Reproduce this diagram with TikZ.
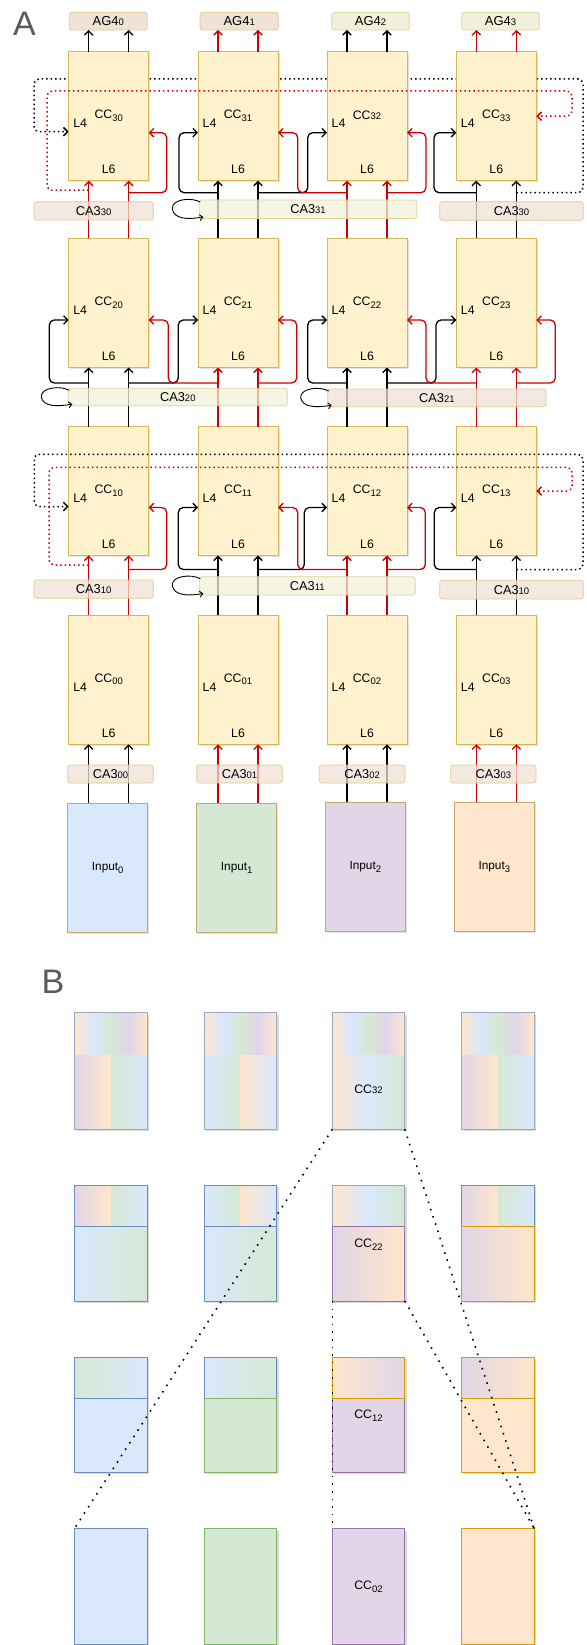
\documentclass[tikz,border=0pt]{standalone}
\usepackage{fontspec}
\setmainfont{Liberation Sans}
\usetikzlibrary{arrows.meta,calc,shadows}
\pgfdeclarelayer{background}
\pgfsetlayers{background,main}
\definecolor{ccfill}{HTML}{FFF2CC}
\definecolor{ccdraw}{HTML}{D6B656}
\definecolor{cabfill}{HTML}{F0E2D6}
\definecolor{cabdraw}{HTML}{E3C88F}
\definecolor{cagfill}{HTML}{F1F1DB}
\definecolor{cagdraw}{HTML}{DCD49A}
\definecolor{myred}{HTML}{CC0000}
\definecolor{cO}{HTML}{FFE6CC}
\definecolor{cB}{HTML}{DAE8FC}
\definecolor{cG}{HTML}{D5E8D4}
\definecolor{cP}{HTML}{E1D5E7}
\definecolor{sO}{HTML}{D79B00}
\definecolor{sB}{HTML}{6C8EBF}
\definecolor{sG}{HTML}{82B366}
\definecolor{sP}{HTML}{9673A6}
\definecolor{sX}{HTML}{9AA8C4}
\definecolor{inpdraw}{HTML}{C4A96E}
\definecolor{lettergrey}{HTML}{5A5A5A}
\newcommand\subd[1]{\raisebox{-2.8pt}{\fontsize{9.5}{10}\selectfont #1}}
\newcommand\smd[1]{{\fontsize{9.5}{10}\selectfont #1}}
\newcommand\shfill[6]{\shade[left color=#5,right color=#6] (#1,#2) rectangle (#3,#4);}
\newcommand\rainbow[3]{%
 \shfill{#1}{#2}{#1+18.125}{#3}{cO}{cB}%
 \shfill{#1+18.125}{#2}{#1+36.25}{#3}{cB}{cG}%
 \shfill{#1+36.25}{#2}{#1+54.375}{#3}{cG}{cP}%
 \shfill{#1+54.375}{#2}{#1+72.5}{#3}{cP}{cO}}
\newcommand\halves[7]{%
 \shfill{#1}{#2}{#1+36.25}{#3}{#4}{#5}%
 \shfill{#1+36.25}{#2}{#1+72.5}{#3}{#6}{#7}}
\newcommand\bshadow[3]{\fill[black,opacity=0.15] (#1+2,#2+2) rectangle (#1+74.5,#3+2);}
\begin{document}
\begin{tikzpicture}[x=1pt,y=-1pt,
 every node/.style={inner sep=0pt,outer sep=0pt,font=\fontsize{12.3}{14}\selectfont},
 ccbox/.style={draw=ccdraw,fill=ccfill,line width=0.8pt,minimum width=80pt,minimum height=129pt,anchor=north west,drop shadow={shadow xshift=1.6pt,shadow yshift=-1.6pt,opacity=0.22}},
 inbox/.style={draw=inpdraw,line width=0.8pt,minimum width=80pt,minimum height=129pt,anchor=north west,drop shadow={shadow xshift=1.6pt,shadow yshift=-1.6pt,opacity=0.22}},
 cab/.style={draw=cabdraw,fill=cabfill,fill opacity=0.75,text opacity=1,line width=0.7pt,rounded corners=2.5pt,anchor=north west,font=\fontsize{12.8}{14}\selectfont},
 cag/.style={draw=cagdraw,fill=cagfill,fill opacity=0.75,text opacity=1,line width=0.7pt,rounded corners=2.5pt,anchor=north west,font=\fontsize{12.8}{14}\selectfont},
 agb/.style={draw=cabdraw,fill=cabfill,line width=0.7pt,rounded corners=2.5pt,anchor=north west,minimum width=78pt,minimum height=17.7pt,font=\fontsize{13}{14}\selectfont},
 agg/.style={draw=cagdraw,fill=cagfill,line width=0.7pt,rounded corners=2.5pt,anchor=north west,minimum width=77.6pt,minimum height=17.7pt,font=\fontsize{13}{14}\selectfont},
 barr/.style={line width=1.3pt,draw=black,-{Straight Barb[length=4.2pt,width=8.5pt]},rounded corners=5pt},
 rarr/.style={line width=1.3pt,draw=myred,-{Straight Barb[length=4.2pt,width=8.5pt]},rounded corners=5pt},
 varr/.style={line width=1.3pt,-{Straight Barb[length=4.2pt,width=8.5pt]}},
 bdot/.style={line width=1.5pt,draw=black,dash pattern=on 1.5pt off 3pt,-{Straight Barb[length=4.2pt,width=8.5pt]},rounded corners=5pt},
 rdot/.style={line width=1.5pt,draw=myred,dash pattern=on 1.5pt off 3pt,-{Straight Barb[length=4.2pt,width=8.5pt]},rounded corners=5pt},
 loopar/.style={line width=0.9pt,-{Straight Barb[length=3pt,width=6pt]}},
 bdots/.style={line width=1.6pt,dash pattern=on 1.6pt off 6pt},
 bnode/.style={anchor=north west,minimum width=72.5pt}
]
\useasboundingbox (0,0) rectangle (586,1645);

% ---------- Part A ----------
\node[font=\fontsize{34}{34}\selectfont,text=lettergrey] (labA) at (24.5,23.5) {A};

\foreach \r/\t in {0/615.3,1/426.5,2/238.5,3/51.7}{
 \foreach \c/\x in {0/68.7,1/198,2/327,3/456.3}{
  \node[ccbox] (cc\r\c) at (\x,\t) {};
  \node (lfour\r\c) at (\x+11.5,\t+71.5) {L4};
  \node (lsix\r\c) at (\x+40,\t+118) {L6};
  \node (lab\r\c) at (\x+40,\t+64) {CC\ifnum\r\c=32 \smd{32}\else\subd{\r\c}\fi};
 }}

\node[inbox,fill=cB] (inp0) at (67.7,803.3) {};
\node[inbox,fill=cG] (inp1) at (196.7,803.3) {};
\node[inbox,fill=cP] (inp2) at (325.3,802.3) {};
\node[inbox,fill=cO] (inp3) at (454.3,802.3) {};
\foreach \c in {0,1,2,3}{
 \node[font=\fontsize{11.8}{13}\selectfont] (inl\c) at (inp\c.center) {Input\subd{\c}};
}

\node[agb] (ag0) at (69.3,12.3) {AG4\smd{0}};
\node[agb,minimum width=78.3pt] (ag1) at (200,12.3) {AG4\smd{1}};
\node[agg] (ag2) at (331.7,12.3) {AG4\smd{2}};
\node[agg] (ag3) at (461.7,12.3) {AG4\smd{3}};

% vertical connectors
\foreach \c/\vcol in {0/black,1/myred,2/black,3/myred}{
 \foreach \dx in {20,60}{
  \path ($(cc0\c.south west)+(\dx,0)$) coordinate (vtop);
  \draw[varr,draw=\vcol] (vtop |- inp\c.north) -- (vtop);
  \path ($(cc3\c.north west)+(\dx,0)$) coordinate (vbot);
  \draw[varr,draw=\vcol] (vbot) -- (vbot |- ag\c.south);
 }}
\foreach \rr/\r in {1/0,2/1,3/2}{
 \foreach \c in {0,1,2,3}{
  \pgfmathtruncatemacro\parity{mod(\rr+\c,2)}
  \ifnum\parity=0 \def\vcol{black}\else\def\vcol{myred}\fi
  \foreach \dx in {20,60}{
   \draw[varr,draw=\vcol] ($(cc\r\c.north west)+(\dx,0)$) -- ($(cc\rr\c.south west)+(\dx,0)$);
  }}}

% row 3 lateral
\begin{pgfonlayer}{background}
\draw[bdot] ($(cc33.south west)+(60,12)$) -- (583,192.7) -- (583,79) -- (34,79) -- (34,131.7) -- ($(cc30.north west)+(0,80)$);
\end{pgfonlayer}
\draw[rarr] ($(cc30.south west)+(60,12)$) -- (166.7,192.7) -- (166.7,132.7) -- ($(cc30.north east)+(0,81)$);
\draw[barr] ($(cc31.south west)+(20,12)$) -- (179,192.7) -- (179,132.7) -- ($(cc31.north west)+(0,81)$);
\draw[barr] ($(cc31.south west)+(60,12)$) -- (307.7,192.7) -- (307.7,132.7) -- ($(cc32.north west)+(0,81)$);
\draw[rarr] ($(cc32.south west)+(20,12)$) -- (297.7,192.7) -- (297.7,132.7) -- ($(cc31.north east)+(0,81)$);
\draw[rarr] ($(cc32.south west)+(60,12)$) -- (426,192.7) -- (426,132.7) -- ($(cc32.north east)+(0,81)$);
\draw[barr] ($(cc33.south west)+(20,12)$) -- (434,192.7) -- (434,132.7) -- ($(cc33.north west)+(0,81)$);
\draw[rdot] ($(cc30.south west)+(20,9.5)$) -- (47,190.2) -- (47,91) -- (572,91) -- (572,116.2) -- ($(cc33.north east)+(0,64.5)$);

% row 2 lateral
\draw[barr] ($(cc20.south west)+(20,15.5)$) -- (49.3,383) -- (49.3,320) -- ($(cc20.north west)+(0,81.5)$);
\draw[barr] ($(cc20.south west)+(60,15.5)$) -- (178.3,383) -- (178.3,320) -- ($(cc21.north west)+(0,81.5)$);
\draw[rarr] ($(cc21.south west)+(20,15.5)$) -- (168.3,383) -- (168.3,320) -- ($(cc20.north east)+(0,81.5)$);
\draw[rarr] ($(cc21.south west)+(60,15.5)$) -- (296.7,383) -- (296.7,320) -- ($(cc21.north east)+(0,81.5)$);
\draw[barr] ($(cc22.south west)+(20,15.5)$) -- (307.7,383) -- (307.7,320) -- ($(cc22.north west)+(0,81.5)$);
\draw[barr] ($(cc22.south west)+(60,15.5)$) -- (436,383) -- (436,320) -- ($(cc23.north west)+(0,81.5)$);
\draw[rarr] ($(cc23.south west)+(20,15.5)$) -- (426,383) -- (426,320) -- ($(cc22.north east)+(0,81.5)$);
\draw[rarr] ($(cc23.south west)+(60,15.5)$) -- (555.3,383) -- (555.3,320) -- ($(cc23.north east)+(0,81.5)$);

% row 1 lateral
\draw[rarr] ($(cc10.south west)+(60,14)$) -- (166.7,569.5) -- (166.7,507.5) -- ($(cc10.north east)+(0,81)$);
\draw[barr] ($(cc11.south west)+(20,14)$) -- (178.3,569.5) -- (178.3,507.5) -- ($(cc11.north west)+(0,81)$);
\draw[barr] ($(cc11.south west)+(60,14)$) -- (304.3,569.5) -- (304.3,507.5) -- ($(cc12.north west)+(0,81)$);
\draw[rarr] ($(cc12.south west)+(20,14)$) -- (297.7,569.5) -- (297.7,507.5) -- ($(cc11.north east)+(0,81)$);
\draw[rarr] ($(cc12.south west)+(60,14)$) -- (425.3,569.5) -- (425.3,507.5) -- ($(cc12.north east)+(0,81)$);
\draw[barr] ($(cc13.south west)+(20,14)$) -- (434.3,569.5) -- (434.3,507.5) -- ($(cc13.north west)+(0,81)$);
\draw[bdot] ($(cc13.south west)+(60,14)$) -- (583,569.5) -- (583,454.3) -- (34.3,454.3) -- (34.3,506.5) -- ($(cc10.north west)+(0,80)$);
\draw[rdot] ($(cc10.south west)+(20,9.5)$) -- (49,565) -- (49,467.3) -- (572,467.3) -- (572,491) -- ($(cc13.north east)+(0,64.5)$);

% CA boxes
\node[cab,minimum width=119.3pt,minimum height=18.3pt] (ca330a) at (34,201.7) {CA3\smd{30}};
\node[cag,minimum width=217.4pt,minimum height=18.5pt] (ca331) at (199.3,200) {CA3\smd{31}};
\node[cab,minimum width=143.6pt,minimum height=18.6pt] (ca330b) at (439.7,201.7) {CA3\smd{30}};
\node[cag,minimum width=219pt,minimum height=17.4pt] (ca320) at (68.3,388.3) {CA3\smd{20}};
\node[cab,minimum width=218.3pt,minimum height=17.7pt] (ca321) at (327.7,389) {CA3\smd{21}};
\node[cab,minimum width=119.3pt,minimum height=18.3pt] (ca310a) at (34,580) {CA3\smd{10}};
\node[cag,minimum width=216pt,minimum height=18.3pt] (ca311) at (199.3,576.7) {CA3\smd{11}};
\node[cab,minimum width=143.6pt,minimum height=18.7pt] (ca310b) at (439.7,580.3) {CA3\smd{10}};
\node[cab,minimum width=85.6pt,minimum height=18pt] (ca300) at (67.7,765) {CA3\smd{00}};
\node[cab,minimum width=85.6pt,minimum height=18pt] (ca301) at (196.7,765) {CA3\smd{01}};
\node[cab,minimum width=85.7pt,minimum height=18pt] (ca302) at (319.3,765) {CA3\smd{02}};
\node[cab,minimum width=85.3pt,minimum height=18pt] (ca303) at (450.7,765) {CA3\smd{03}};

% self loops
\foreach \n in {ca331,ca311,ca320,ca321}{
 \draw[loopar] ($(\n.north west)+(1,2)$) .. controls ($(\n.north west)+(-8,-3)$) and ($(\n.north west)+(-28,-1)$) .. ($(\n.north west)+(-27,9)$) .. controls ($(\n.south west)+(-25,1)$) and ($(\n.south west)+(-11,1)$) .. ($(\n.south west)+(4,-1.5)$);
}

% ---------- Part B ----------
\node[font=\fontsize{34}{34}\selectfont,text=lettergrey] (labB) at (53,981.5) {B};

% shadows
\foreach \x in {74.5,204,332.3,461.7}{
 \bshadow{\x}{1012.5}{1129.3}
 \bshadow{\x}{1185.3}{1301}
 \bshadow{\x}{1357}{1472}
 \bshadow{\x}{1528.5}{1644}
}

% row 3
\rainbow{74.5}{1012.5}{1055.5}\halves{74.5}{1055.5}{1129.3}{cP}{cO}{cG}{cB}
\rainbow{204}{1012.5}{1055.5}\halves{204}{1055.5}{1129.3}{cB}{cG}{cO}{cB}
\rainbow{332.3}{1012.5}{1055.5}\halves{332.3}{1055.5}{1129.3}{cO}{cB}{cB}{cG}
\rainbow{461.7}{1012.5}{1055.5}\halves{461.7}{1055.5}{1129.3}{cP}{cO}{cG}{cB}
\foreach \x in {74.5,204,332.3,461.7}{
 \draw[sX,line width=0.8pt] (\x,1012.5) rectangle (\x+72.5,1129.3);
}
% row 2
\halves{74.5}{1185.3}{1226.7}{cP}{cO}{cG}{cB}\shfill{74.5}{1226.7}{147}{1301}{cB}{cG}
\draw[sB,line width=0.8pt] (74.5,1185.3) rectangle (147,1226.7);
\draw[sB,line width=0.8pt] (74.5,1226.7) rectangle (147,1301);
\halves{204}{1185.3}{1226.7}{cB}{cG}{cO}{cB}\shfill{204}{1226.7}{276.5}{1301}{cB}{cG}
\draw[sB,line width=0.8pt] (204,1185.3) rectangle (276.5,1226.7);
\draw[sB,line width=0.8pt] (204,1226.7) rectangle (276.5,1301);
\halves{332.3}{1185.3}{1226.7}{cO}{cB}{cB}{cG}\shfill{332.3}{1226.7}{404.8}{1301}{cP}{cO}
\draw[sX,line width=0.8pt] (332.3,1185.3) rectangle (404.8,1226.7);
\draw[sP,line width=0.8pt] (332.3,1226.7) rectangle (404.8,1301);
\halves{461.7}{1185.3}{1226.7}{cP}{cO}{cG}{cB}\shfill{461.7}{1226.7}{534.2}{1301}{cP}{cO}
\draw[sB,line width=0.8pt] (461.7,1185.3) rectangle (534.2,1226.7);
\draw[sO,line width=0.8pt] (461.7,1226.7) rectangle (534.2,1301);
% row 1
\shfill{74.5}{1357}{147}{1398}{cG}{cB}
\fill[cB] (74.5,1398) rectangle (147,1472);
\draw[sB,line width=0.8pt] (74.5,1357) rectangle (147,1398);
\draw[sB,line width=0.8pt] (74.5,1398) rectangle (147,1472);
\shfill{204}{1357}{276.5}{1398}{cB}{cG}
\fill[cG] (204,1398) rectangle (276.5,1472);
\draw[sB,line width=0.8pt] (204,1357) rectangle (276.5,1398);
\draw[sG,line width=0.8pt] (204,1398) rectangle (276.5,1472);
\shfill{332.3}{1357}{404.8}{1398}{cO}{cP}
\fill[cP] (332.3,1398) rectangle (404.8,1472);
\draw[sP,line width=0.8pt] (332.3,1398) rectangle (404.8,1472);
\draw[sO,line width=0.8pt] (332.3,1357) rectangle (404.8,1398);
\shfill{461.7}{1357}{534.2}{1398}{cP}{cO}
\fill[cO] (461.7,1398) rectangle (534.2,1472);
\draw[sO,line width=0.8pt] (461.7,1357) rectangle (534.2,1398);
\draw[sO,line width=0.8pt] (461.7,1398) rectangle (534.2,1472);
% row 0
\draw[sB,fill=cB,line width=0.8pt] (74.5,1528.5) rectangle (147,1644);
\draw[sG,fill=cG,line width=0.8pt] (204,1528.5) rectangle (276.5,1644);
\draw[sP,fill=cP,line width=0.8pt] (332.3,1528.5) rectangle (404.8,1644);
\draw[sO,fill=cO,line width=0.8pt] (461.7,1528.5) rectangle (534.2,1644);

% named B boxes
\foreach \c/\x in {0/74.5,1/204,2/332.3,3/461.7}{
 \node[bnode,minimum height=116.8pt] (b3\c) at (\x,1012.5) {};
 \node[bnode,minimum height=115.7pt] (b2\c) at (\x,1185.3) {};
 \node[bnode,minimum height=115pt] (b1\c) at (\x,1357) {};
 \node[bnode,minimum height=115.5pt] (b0\c) at (\x,1528.5) {};
}
\node (lb32) at (368.5,1089.3) {CC\smd{32}};
\node (lb22) at (368.5,1245) {CC\subd{22}};
\node (lb12) at (368.5,1415.5) {CC\subd{12}};
\node (lb02) at (368.5,1586.7) {CC\subd{02}};

\draw[bdots] (b32.south west) -- (b00.north west);
\draw[bdots] (b32.south east) -- (b03.north east);
\draw[bdots] (b22.south west) -- (b02.north west);
\draw[bdots] (b22.south east) -- (b03.north east);
\end{tikzpicture}
\end{document}
